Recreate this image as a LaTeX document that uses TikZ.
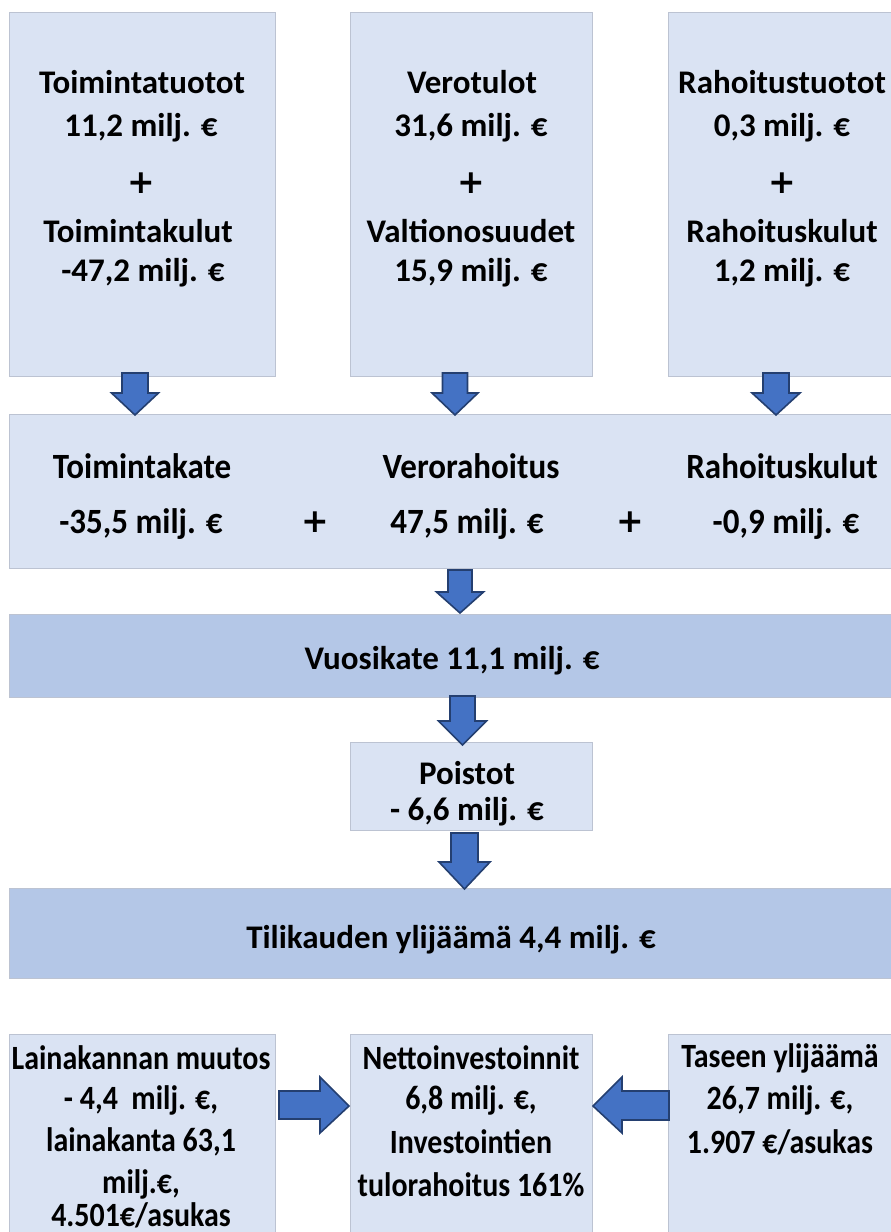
\documentclass[tikz,border=0pt]{standalone}
\usepackage{fontspec}
\setmainfont{Carlito}
\newfontfamily\condfont{Carlito}[FakeStretch=0.88]
\newfontfamily\midfont{Carlito}[FakeStretch=0.93]
\newfontfamily\plusfont{DejaVu Sans}
\usetikzlibrary{calc}
\definecolor{lightbox}{HTML}{DAE3F3}
\definecolor{darkband}{HTML}{B4C7E7}
\definecolor{boxline}{HTML}{BCC3D2}
\definecolor{arrowfill}{HTML}{4472C4}
\definecolor{arrowline}{HTML}{243F70}
\tikzset{
  lightrect/.style={fill=lightbox, draw=boxline, line width=0.8pt},
  darkrect/.style={fill=darkband, draw=boxline, line width=0.8pt},
  blockarrow/.style={fill=arrowfill, draw=arrowline, line width=1.6pt, line join=miter},
  toptxt/.style={font=\fontsize{33}{38}\selectfont\bfseries, inner sep=0pt},
  midtxt/.style={font=\midfont\fontsize{35.5}{40}\selectfont\bfseries, inner sep=0pt},
  bottxt/.style={font=\condfont\fontsize{34}{40}\selectfont\bfseries, inner sep=0pt},
  plustxt/.style={font=\plusfont\fontsize{33}{38}\selectfont\bfseries, inner sep=0pt},
}
% down arrow: cx, ytop, ybase, ytip, shaft half width, head half width
\newcommand{\downblock}[6]{\draw[blockarrow] (#1-#5,#2) -- (#1+#5,#2) -- (#1+#5,#3) -- (#1+#6,#3) -- (#1,#4) -- (#1-#6,#3) -- (#1-#5,#3) -- cycle;}
\begin{document}
\begin{tikzpicture}[x=1pt,y=-1pt]
\useasboundingbox (0,0) rectangle (891,1232);
% top boxes
\draw[lightrect] (9,12) rectangle (275,376);
\draw[lightrect] (350,12) rectangle (592,376);
\draw[lightrect] (668,12) rectangle (895,376);
\node[toptxt] (a1) at (142,82) {Toimintatuotot};
\node[toptxt] (a2) at (141,128) {11,2 milj. €};
\node[plustxt] (a3) at (141,183) {+};
\node[toptxt] (a4) at (138,231) {Toimintakulut};
\node[toptxt] (a5) at (143,273) {-47,2 milj. €};
\node[toptxt] (b1) at (472,82) {Verotulot};
\node[toptxt] (b2) at (471,128) {31,6 milj. €};
\node[plustxt] (b3) at (471,183) {+};
\node[toptxt] (b4) at (471,231) {Valtionosuudet};
\node[toptxt] (b5) at (471,273) {15,9 milj. €};
\node[toptxt] (c1) at (782,82) {Rahoitustuotot};
\node[toptxt] (c2) at (782,128) {0,3 milj. €};
\node[plustxt] (c3) at (782,183) {+};
\node[toptxt] (c4) at (782,231) {Rahoituskulut};
\node[toptxt] (c5) at (782,273) {1,2 milj. €};
% middle band
\draw[lightrect] (9,414) rectangle (895,568);
\draw[darkrect] (9,614) rectangle (895,697);
\draw[lightrect] (350,742) rectangle (592,830);
\draw[darkrect] (9,888) rectangle (895,978);
% arrows to middle band
\downblock{135}{373}{393}{415}{13}{23.5}
\downblock{455}{373}{393}{415}{12.5}{23}
\downblock{776}{373}{393}{415}{13}{24}
\node[midtxt] (m1) at (142,466) {Toimintakate};
\node[midtxt] (m2) at (141,524) {-35,5 milj. €};
\node[plustxt] (p1) at (315,522) {+};
\node[midtxt] (m3) at (471,466) {Verorahoitus};
\node[midtxt] (m4) at (467,524) {47,5 milj. €};
\node[plustxt] (p2) at (630,522) {+};
\node[midtxt] (m5) at (782,466) {Rahoituskulut};
\node[midtxt] (m6) at (786,524) {-0,9 milj. €};
% vuosikate
\downblock{460}{570}{592}{613}{12}{23.5}
\node[toptxt] (v) at (452,661) {Vuosikate 11,1 milj. €};
\downblock{462.5}{696}{721}{745}{12.5}{24}
\node[toptxt] (po1) at (467,773) {Poistot};
\node[toptxt] (po2) at (467,812) {- 6,6 milj. €};
\downblock{464.5}{833}{862}{889}{13.5}{25.5}
\node[toptxt] (t) at (451,940) {Tilikauden ylijäämä 4,4 milj. €};
% bottom boxes
\draw[lightrect] (9,1034) rectangle (275,1240);
\draw[lightrect] (350,1034) rectangle (592,1240);
\draw[lightrect] (668,1034) rectangle (895,1240);
\node[bottxt] (l1) at (141,1058) {Lainakannan muutos};
\node[bottxt] (l2) at (141,1100) {- 4,4\ \ milj. €,};
\node[bottxt] (l3) at (141,1142) {lainakanta 63,1};
\node[bottxt] (l4) at (141,1184) {milj.€,};
\node[bottxt] (l5) at (141,1215) {4.501€/asukas};
\node[bottxt] (n1) at (471,1058) {Nettoinvestoinnit};
\node[bottxt] (n2) at (471,1100) {6,8 milj. €,};
\node[bottxt] (n3) at (471,1142) {Investointien};
\node[bottxt] (n4) at (471,1185) {tulorahoitus 161\%};
\node[bottxt] (r1) at (780,1058) {Taseen ylijäämä};
\node[bottxt] (r2) at (780,1100) {26,7 milj. €,};
\node[bottxt] (r3) at (780,1142) {1.907 €/asukas};
% horizontal arrows
\draw[blockarrow] (279,1091) -- (320,1091) -- (320,1077) -- (349,1106) -- (320,1133) -- (320,1119) -- (279,1119) -- cycle;
\draw[blockarrow] (669,1091) -- (622,1091) -- (622,1077) -- (593,1106) -- (622,1133) -- (622,1120) -- (669,1120) -- cycle;
\end{tikzpicture}
\end{document}
